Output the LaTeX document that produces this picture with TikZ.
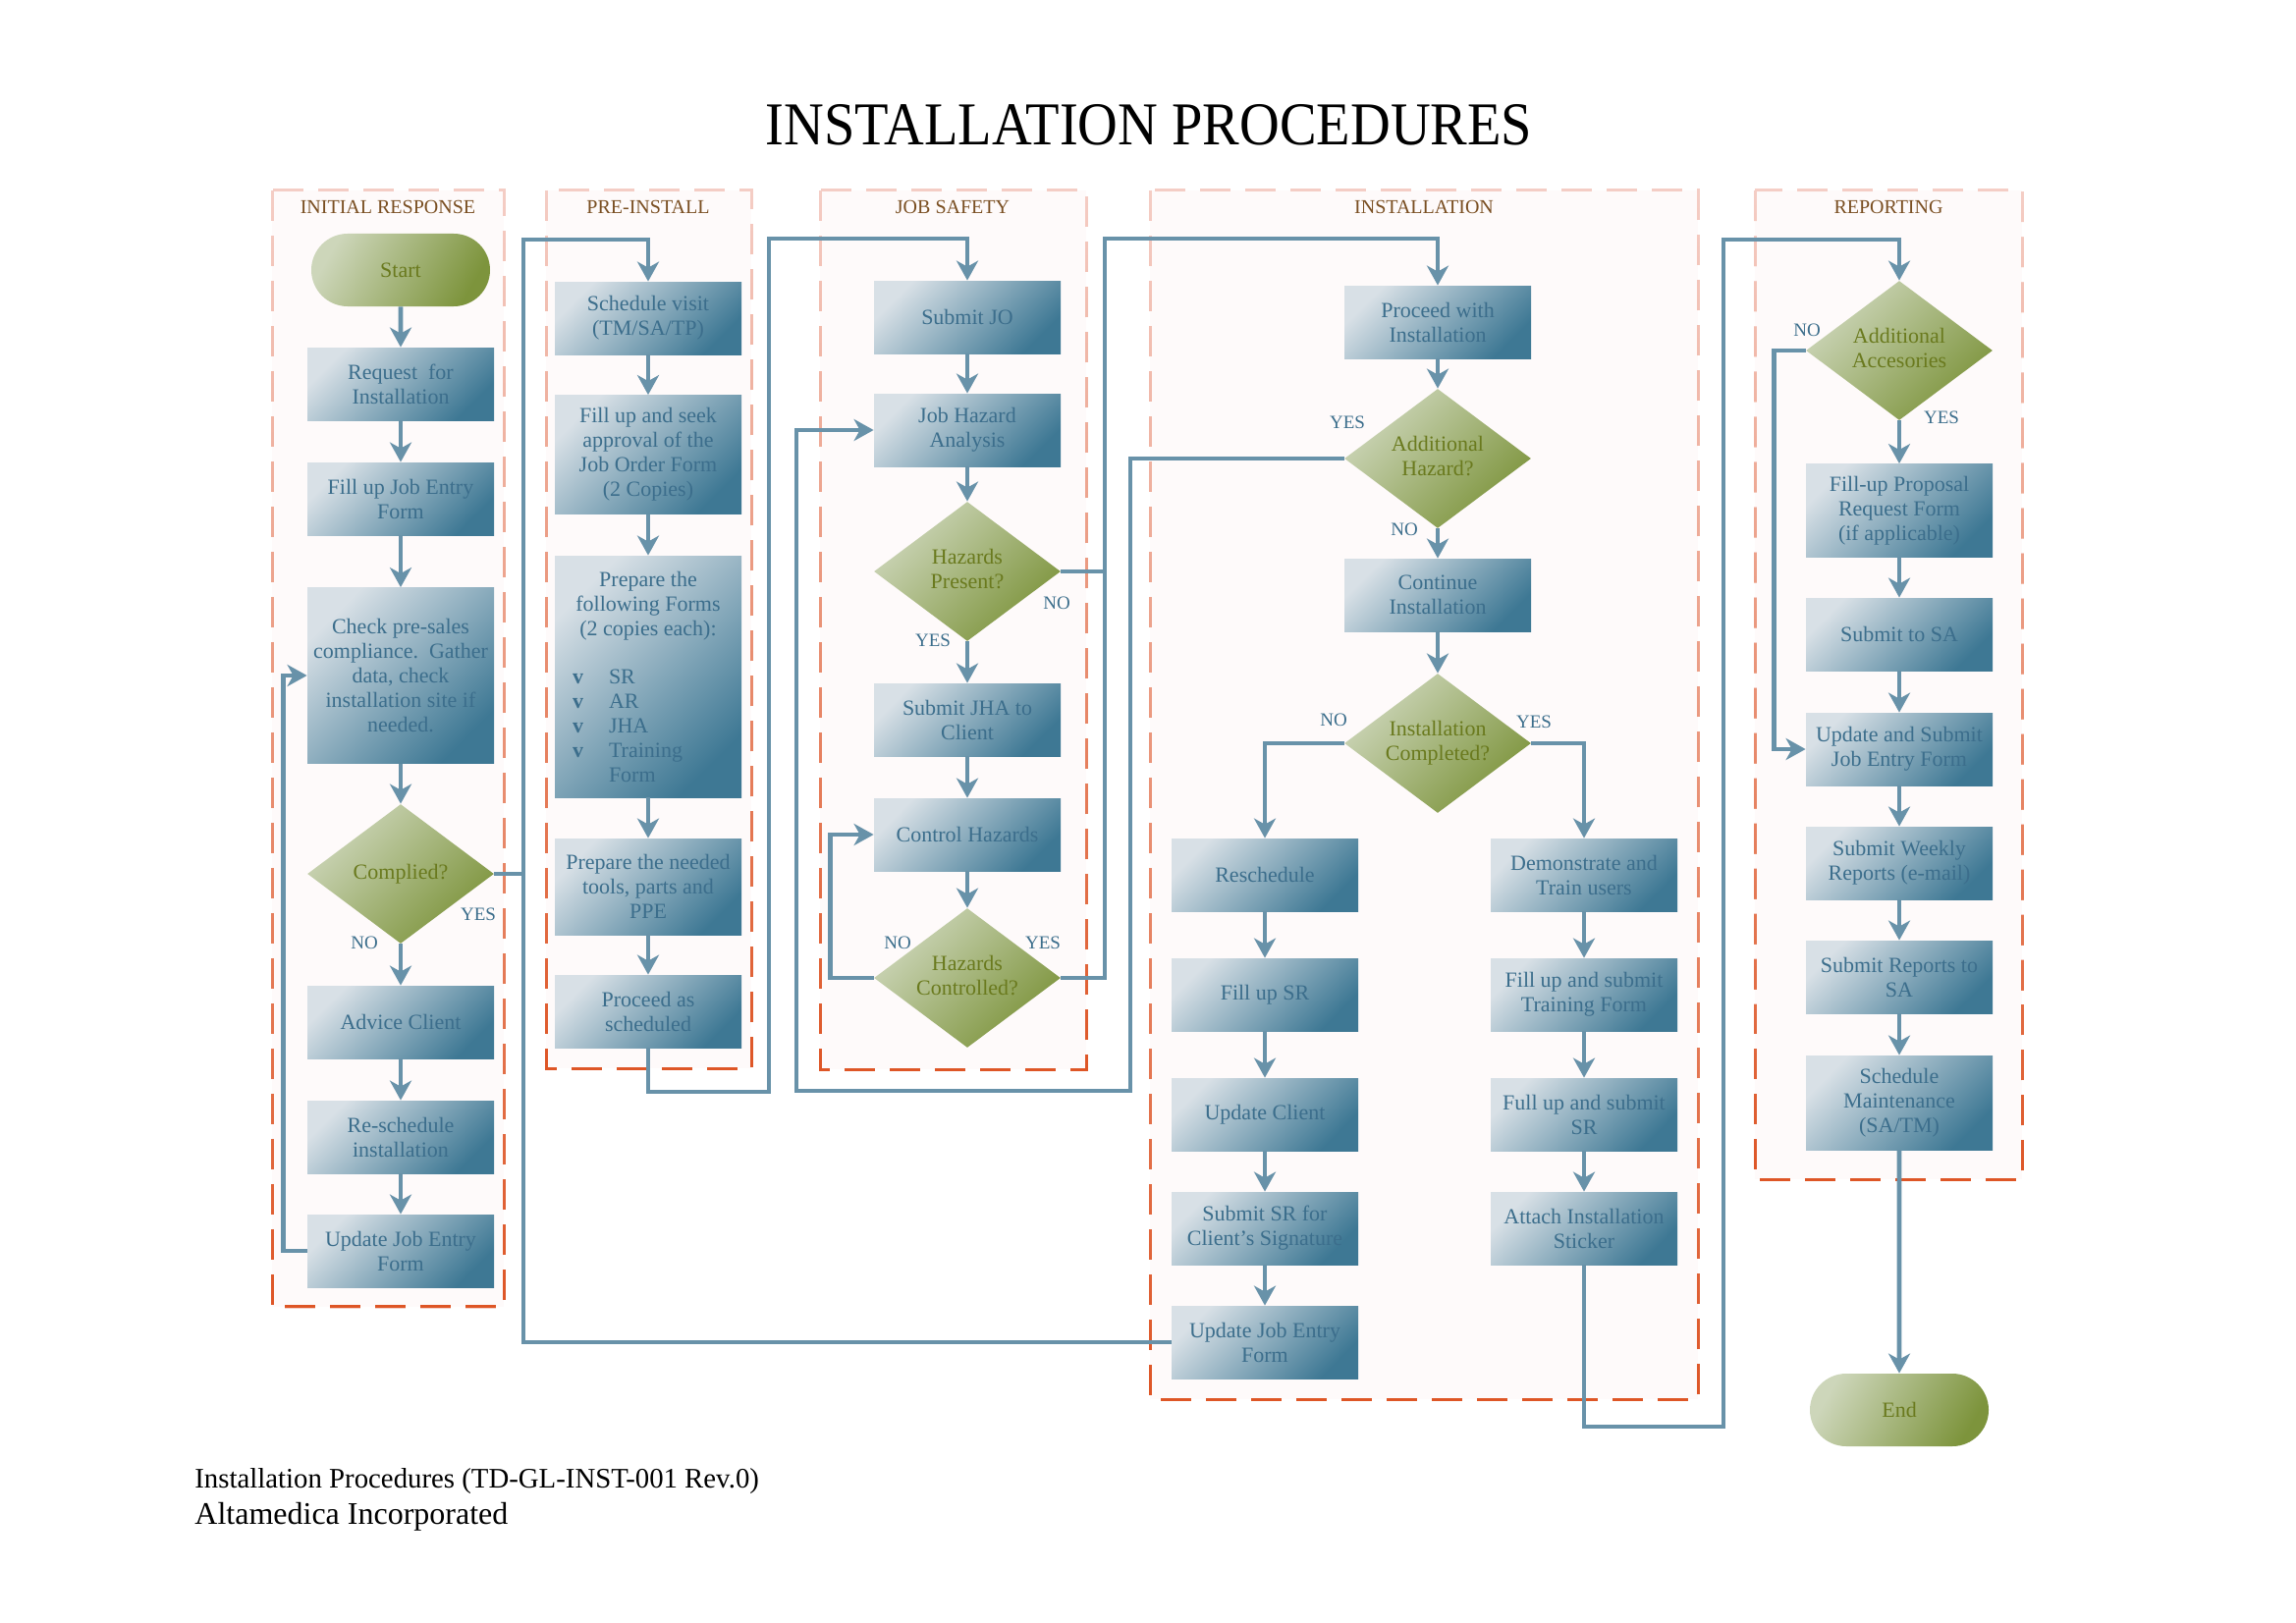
\documentclass[tikz,border=0pt]{standalone}
\usepackage{fontspec}
\setmainfont{Liberation Serif}
\usepackage{graphicx}
\usetikzlibrary{shapes.geometric,shapes.misc,arrows.meta,fadings}

\definecolor{flowc}{HTML}{6892A9}
\definecolor{boxlight}{HTML}{D8E0E6}
\definecolor{boxdark}{HTML}{3E7894}
\definecolor{boxtext}{HTML}{3C6E8C}
\definecolor{dialight}{HTML}{CDD6BA}
\definecolor{diadark}{HTML}{7D943C}
\definecolor{diatext}{HTML}{6A7A1E}
\definecolor{lanefill}{HTML}{FEFAFA}
\definecolor{lanetop}{HTML}{F5CEC6}
\definecolor{lanebot}{HTML}{DE5626}
\definecolor{lanetitlec}{HTML}{7A4F22}
\definecolor{labtext}{HTML}{3C6E8C}

\tikzfading[name=lanefade, top color=transparent!100, bottom color=transparent!0]

\newcommand\dtext[1]{\smash{\makebox[0pt]{\raisebox{-0.25em}{\begin{tabular}{@{}c@{}}#1\end{tabular}}}}}
\newcommand\chk{\hspace*{5.5pt}\makebox[18.5pt][l]{\textbf{v}}}

\tikzset{
  procbox/.style={rectangle, minimum width=95pt, minimum height=37pt, inner sep=2pt, align=center,
    top color=boxlight, bottom color=boxdark, shading angle=45, text=boxtext,
    font=\fontsize{11}{12.5}\selectfont},
  decision/.style={diamond, minimum width=95pt, minimum height=71pt, inner sep=0pt,
    top color=dialight, bottom color=diadark, shading angle=45, text=diatext,
    font=\fontsize{11}{12.5}\selectfont},
  terminal/.style={rounded rectangle, minimum width=95pt, minimum height=37pt, inner sep=2pt,
    top color=dialight, bottom color=diadark, shading angle=60, text=diatext,
    font=\fontsize{11}{12.5}\selectfont},
  flow/.style={draw=flowc, line width=2.35pt, -{Stealth[length=10pt,width=11pt,inset=3pt]}},
  flowline/.style={draw=flowc, line width=2.35pt},
  lanedash/.style={line width=1.5pt, dash pattern=on 15.5pt off 7.5pt},
  lanetitle/.style={font=\fontsize{10}{12}\selectfont, text=lanetitlec, inner sep=0pt},
  yn/.style={font=\fontsize{9.5}{11}\selectfont, text=labtext, inner sep=0pt},
}

\begin{document}
\begin{tikzpicture}[x=0.5pt, y=-0.5pt]
\useasboundingbox (0,0) rectangle (2338,1653);

% ---------------- lanes ----------------
\foreach \xa/\ya/\xb/\yb in {277/194/513/1331, 556/194/765/1088, 835/194/1106/1089, 1171/194/1729/1425, 1787/194/2059/1201}{
  \fill[lanefill] (\xa,\ya) rectangle (\xb,\yb);
  \draw[lanedash, lanetop] (\xa,\ya) rectangle (\xb,\yb);
  \draw[lanedash, lanebot, path fading=lanefade] (\xa,\ya) rectangle (\xb,\yb);
}
\node[lanetitle] (t1) at (395,211) {INITIAL RESPONSE};
\node[lanetitle] (t2) at (660,211) {PRE-INSTALL};
\node[lanetitle] (t3) at (970,211) {JOB SAFETY};
\node[lanetitle] (t4) at (1450,211) {INSTALLATION};
\node[lanetitle] (t5) at (1923,211) {REPORTING};

% ---------------- title & footer ----------------
\node[anchor=base, inner sep=0pt, font=\fontsize{31}{36}\selectfont] (title) at (1170,148)
  {\scalebox{0.91}[1]{INSTALLATION PROCEDURES}};
\node[anchor=base west, inner sep=0pt, font=\fontsize{14.4}{17}\selectfont] (foot1) at (198,1515)
  {Installation Procedures (TD-GL-INST-001 Rev.0)};
\node[anchor=base west, inner sep=0pt, font=\fontsize{16}{19}\selectfont] (foot2) at (198,1552)
  {Altamedica Incorporated};

% ---------------- lane 1 ----------------
\node[terminal] (start) at (408,275) {Start};
\node[procbox] (req) at (408,391) {Request\ \ for\\Installation};
\node[procbox] (fill) at (408,508) {Fill up Job Entry\\Form};
\node[procbox, minimum height=89.5pt] (check) at (408,688) {Check pre-sales\\compliance.\ \ Gather\\data, check\\installation site if\\needed.};
\node[decision] (comp) at (408,890) {\dtext{Complied?}};
\node[procbox] (adv) at (408,1041) {Advice Client};
\node[procbox] (resch) at (408,1158) {Re-schedule\\installation};
\node[procbox] (upd1) at (408,1274) {Update Job Entry\\Form};

% ---------------- lane 2 ----------------
\node[procbox] (sched) at (660,324) {Schedule visit\\(TM/SA/TP)};
\node[procbox, minimum height=60.5pt] (seek) at (660,463) {Fill up and seek\\approval of the\\Job Order Form\\(2 Copies)};
\node[procbox, minimum height=123pt] (forms) at (660,689) {\parbox{88pt}{\centering Prepare the\\following Forms\\(2 copies each):\par\vspace{12pt}\raggedright
  \chk SR\\\chk AR\\\chk JHA\\\chk Training\\\hspace*{24pt}Form\par}};
\node[procbox, minimum height=49pt] (tools) at (660,903) {Prepare the needed\\tools, parts and\\PPE};
\node[procbox] (proc) at (660,1030) {Proceed as\\scheduled};

% ---------------- lane 3 ----------------
\node[procbox] (jo) at (985,323) {Submit JO};
\node[procbox] (jha) at (985,438) {Job Hazard\\Analysis};
\node[decision] (hp) at (985,582) {\dtext{Hazards\\Present?}};
\node[procbox] (sjha) at (985,733) {Submit JHA to\\Client};
\node[procbox] (ctrl) at (985,850) {Control Hazards};
\node[decision] (hc) at (985,996) {\dtext{Hazards\\Controlled?}};

% ---------------- lane 4 ----------------
\node[procbox] (pwi) at (1464,328) {Proceed with\\Installation};
\node[decision] (ah) at (1464,467) {\dtext{Additional\\Hazard?}};
\node[procbox] (cont) at (1464,606) {Continue\\Installation};
\node[decision] (ic) at (1464,757) {\dtext{Installation\\Completed?}};
\node[procbox] (rs) at (1288,891) {Reschedule};
\node[procbox] (fsr) at (1288,1013) {Fill up SR};
\node[procbox] (uc) at (1288,1135) {Update Client};
\node[procbox] (ssr) at (1288,1251) {Submit SR for\\Client’s Signature};
\node[procbox] (upd2) at (1288,1367) {Update Job Entry\\Form};
\node[procbox] (demo) at (1613,891) {Demonstrate and\\Train users};
\node[procbox] (ftf) at (1613,1013) {Fill up and submit\\Training Form};
\node[procbox] (fus) at (1613,1135) {Full up and submit\\SR};
\node[procbox] (att) at (1613,1251) {Attach Installation\\Sticker};

% ---------------- lane 5 ----------------
\node[decision] (aa) at (1934,357) {\dtext{Additional\\Accesories}};
\node[procbox, minimum height=47.5pt] (prop) at (1934,520) {Fill-up Proposal\\Request Form\\(if applicable)};
\node[procbox] (ssa) at (1934,646) {Submit to SA};
\node[procbox] (usj) at (1934,763) {Update and Submit\\Job Entry Form};
\node[procbox] (wk) at (1934,879) {Submit Weekly\\Reports (e-mail)};
\node[procbox] (rsa) at (1934,995) {Submit Reports to\\SA};
\node[procbox, minimum height=48pt] (maint) at (1934,1123) {Schedule\\Maintenance\\(SA/TM)};
\node[terminal] (endn) at (1934,1436) {End};

% ---------------- corner coordinates ----------------
\coordinate (c1) at (533,244);
\coordinate (c2) at (783,1112);
\coordinate (c3) at (783,243);
\coordinate (c4) at (1125,243);
\coordinate (c5) at (1151,1111);
\coordinate (c6) at (811,1111);
\coordinate (c7) at (1755,1453);
\coordinate (c8) at (1755,244);

% ---------------- connectors lane 1 ----------------
\draw[flow] (start) -- (req);
\draw[flow] (req) -- (fill);
\draw[flow] (fill) -- (check);
\draw[flow] (check) -- (comp);
\draw[flow] (comp) -- (adv);
\draw[flow] (adv) -- (resch);
\draw[flow] (resch) -- (upd1);
\draw[flow] (upd1.west) -- ++(-24,0) |- (check.west);
\draw[flow] (comp.east) -| (c1) -| (sched.north);
\draw[flowline] (upd2.west) -| (c1 |- comp.east);

% lane 2
\draw[flow] (sched) -- (seek);
\draw[flow] (seek) -- (forms);
\draw[flow] (forms) -- (tools);
\draw[flow] (tools) -- (proc);
\draw[flow] (proc.south) |- (c2) -- (c3) -| (jo.north);

% lane 3
\draw[flow] (jo) -- (jha);
\draw[flow] (jha) -- (hp);
\draw[flow] (hp) -- (sjha);
\draw[flow] (sjha) -- (ctrl);
\draw[flow] (ctrl) -- (hc);
\draw[flow] (hc.west) -- ++(-44,0) |- (ctrl.west);
\draw[flowline] (hp.east) -- (hp.east -| c4);
\draw[flow] (hc.east) -| (c4) -| (pwi.north);

% lane 4
\draw[flow] (pwi) -- (ah);
\draw[flow] (ah) -- (cont);
\draw[flow] (ah.west) -| (c5) -- (c6) |- (jha.west);
\draw[flow] (cont) -- (ic);
\draw[flow] (ic.west) -| (rs.north);
\draw[flow] (ic.east) -| (demo.north);
\draw[flow] (rs) -- (fsr);
\draw[flow] (fsr) -- (uc);
\draw[flow] (uc) -- (ssr);
\draw[flow] (ssr) -- (upd2);
\draw[flow] (demo) -- (ftf);
\draw[flow] (ftf) -- (fus);
\draw[flow] (fus) -- (att);
\draw[flow] (att.south) |- (c7) -- (c8) -| (aa.north);

% lane 5
\draw[flow] (aa) -- (prop);
\draw[flow] (aa.west) -- ++(-32,0) |- (usj.west);
\draw[flow] (prop) -- (ssa);
\draw[flow] (ssa) -- (usj);
\draw[flow] (usj) -- (wk);
\draw[flow] (wk) -- (rsa);
\draw[flow] (rsa) -- (maint);
\draw[flow] (maint) -- (endn);

% ---------------- YES / NO labels ----------------
\node[yn] (y1) at (487,931) {YES};
\node[yn] (n1) at (371,960) {NO};
\node[yn] (n2) at (1076,614) {NO};
\node[yn] (y2) at (950,652) {YES};
\node[yn] (n3) at (914,960) {NO};
\node[yn] (y3) at (1062,960) {YES};
\node[yn] (y4) at (1372,430) {YES};
\node[yn] (n4) at (1430,539) {NO};
\node[yn] (n5) at (1358,733) {NO};
\node[yn] (y5) at (1562,735) {YES};
\node[yn] (n6) at (1840,336) {NO};
\node[yn] (y6) at (1977,425) {YES};
\end{tikzpicture}
\end{document}
